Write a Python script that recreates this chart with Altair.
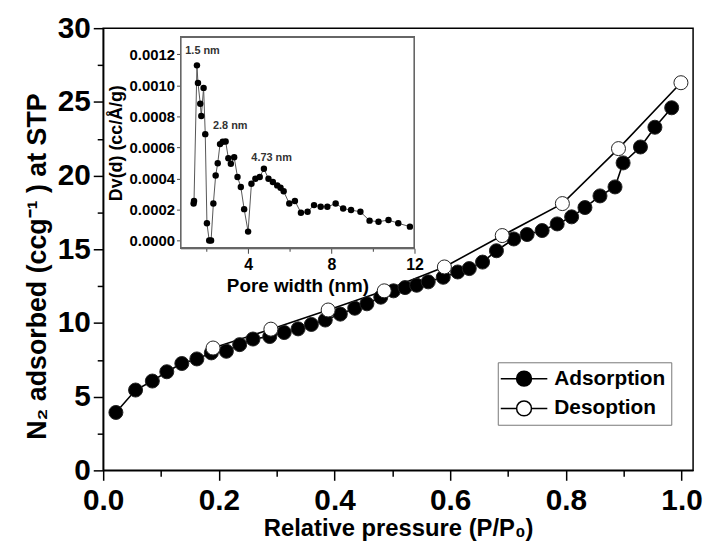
import altair as alt
import pandas as pd

# ---- main isotherm data ----
ads_p = [0.022, 0.056, 0.085, 0.110, 0.136, 0.162, 0.187, 0.213, 0.236, 0.259,
         0.288, 0.313, 0.337, 0.360, 0.384, 0.410, 0.435, 0.456, 0.480, 0.502,
         0.522, 0.542, 0.562, 0.588, 0.613, 0.633, 0.656, 0.680, 0.710, 0.733,
         0.759, 0.785, 0.810, 0.833, 0.859, 0.885, 0.899, 0.929, 0.954, 0.983]
ads_v = [3.93, 5.45, 6.06, 6.69, 7.25, 7.56, 7.97, 8.08, 8.53, 8.91,
         9.08, 9.35, 9.60, 9.90, 10.20, 10.60, 11.00, 11.30, 11.75, 12.18,
         12.40, 12.56, 12.79, 13.10, 13.46, 13.69, 14.13, 14.90, 15.70, 16.00,
         16.27, 16.72, 17.20, 17.83, 18.62, 19.23, 20.86, 21.94, 23.28, 24.60]
des_p = [0.190, 0.290, 0.389, 0.486, 0.590, 0.690, 0.794, 0.891, 0.999]
des_v = [8.30, 9.58, 10.88, 12.18, 13.80, 15.93, 18.10, 21.83, 26.30]

# ---- inset pore size distribution ----
pore_w = [1.38, 1.40, 1.54, 1.59, 1.70, 1.75, 1.86, 1.94, 2.02, 2.13, 2.22, 2.33,
          2.44, 2.54, 2.65, 2.78, 2.92, 3.05, 3.17, 3.33, 3.49, 3.65, 3.81, 4.00,
          4.16, 4.35, 4.56, 4.76, 4.98, 5.19, 5.40, 5.56, 5.71, 5.98, 6.25, 6.54,
          6.86, 7.17, 7.49, 7.81, 8.21, 8.57, 8.95, 9.40, 9.84, 10.27, 10.75,
          11.22, 11.78]
pore_dv = [0.000238, 0.000255, 0.001128, 0.001015, 0.000881, 0.000802, 0.000983,
           0.000685, 0.000111, 0.0, 0.0, 0.000238, 0.000419, 0.000498, 0.000621,
           0.000636, 0.000638, 0.000530, 0.000494, 0.000536, 0.000409, 0.000345,
           0.000202, 0.0000575, 0.000366, 0.000398, 0.000409, 0.000462, 0.000398,
           0.000377, 0.000355, 0.000340, 0.000317, 0.000238, 0.000255, 0.000179,
           0.000185, 0.000228, 0.000217, 0.000217, 0.000238, 0.000206, 0.000196,
           0.000185, 0.000128, 0.000121, 0.000132, 0.000111, 0.0000894]
ann_text = ["1.5 nm", "2.8 nm", "4.73 nm"]
ann_w = [1.81, 3.14, 5.13]
ann_dv = [0.00122, 0.00074, 0.00053]

series_names = ["Adsorption", "Desoption"]
x_ticks = [round(i * 0.1, 1) for i in range(11)]
y_ticks = [i * 2.5 for i in range(13)]
ix_ticks = [2, 4, 6, 8, 10, 12]
iy_ticks = [round(i * 0.0002, 4) for i in range(7)]

FONT = "Liberation Sans, Arial, sans-serif"

main_df = pd.DataFrame({
    "p": ads_p + des_p,
    "v": ads_v + des_v,
    "series": [series_names[0]] * len(ads_p) + [series_names[1]] * len(des_p),
})
inset_df = pd.DataFrame({"w": pore_w, "dv": pore_dv})
ann_df = pd.DataFrame({"w": ann_w, "dv": ann_dv, "label": ann_text})

X = alt.X("p:Q",
          scale=alt.Scale(domain=[0, 1.02], nice=False, zero=False),
          axis=alt.Axis(values=x_ticks,
                        labelExpr="round(datum.value*10) % 2 === 0 ? format(datum.value, '.1f') : ''",
                        tickSize={"condition": {"test": "round(datum.value*10) % 2 === 0", "value": 10}, "value": 6},
                        labelOverlap=False, labelFlush=False, labelPadding=5,
                        title="Relative pressure (P/P\u2080)", titlePadding=2))
Y = alt.Y("v:Q",
          scale=alt.Scale(domain=[0, 30], nice=False, zero=False),
          axis=alt.Axis(values=y_ticks,
                        labelExpr="datum.value % 5 === 0 ? format(datum.value, 'd') : ''",
                        tickSize={"condition": {"test": "datum.value % 5 === 0", "value": 10}, "value": 6},
                        labelOverlap=False, labelFlush=False, labelPadding=3,
                        title="N\u2082 adsorbed (ccg\u207b\u00b9 ) at STP", titlePadding=6,
                        titleFontSize=27, titleY=240))

lines = alt.Chart(main_df).mark_line(color="black", strokeWidth=1.6).encode(
    x=X, y=Y, detail="series:N")

legend_path = "M-3.13,0L-1,0M1,0L3.13,0M1,0A1,1,0,1,1,-1,0A1,1,0,1,1,1,0Z"
points = alt.Chart(main_df).mark_point(
    shape="circle", filled=True, size=200, stroke="#222", strokeWidth=1, opacity=1
).encode(
    x=X, y=Y,
    fill=alt.Fill("series:N",
                  scale=alt.Scale(domain=series_names, range=["black", "white"]),
                  legend=alt.Legend(orient="none", legendX=398, legendY=337, title=None,
                                    symbolType=legend_path, symbolSize=225,
                                    symbolStrokeColor="black", symbolStrokeWidth=1.5,
                                    symbolOffset=10, labelOffset=20, rowPadding=8,
                                    padding=6, strokeColor="#777",
                                    labelFont=FONT, labelFontSize=21, labelFontWeight="bold",
                                    labelColor="black", labelLimit=300)),
)

main = alt.layer(lines, points)

IX = alt.X("w:Q",
           scale=alt.Scale(domain=[0.75, 12], range=[78, 314], nice=False, zero=False),
           axis=alt.Axis(orient="bottom", offset=-224, values=ix_ticks,
                         labelExpr="datum.value % 4 === 0 ? datum.value : ''",
                         tickSize={"condition": {"test": "datum.value % 4 === 0", "value": 5}, "value": 3},
                         labelOverlap=False, labelFlush=False,
                         labelFontSize=16, labelPadding=3, tickWidth=1, domainWidth=1,
                         domainColor="#444", tickColor="#444",
                         title="Pore width (nm)", titleFontSize=19, titlePadding=5))
IY = alt.Y("dv:Q",
           scale=alt.Scale(domain=[-0.00005, 0.00131], range=[222, 9], nice=False, zero=False),
           axis=alt.Axis(orient="left", offset=-78, values=iy_ticks, format=".4f",
                         labelOverlap=False, labelFlush=False,
                         labelFontSize=15, labelPadding=2, tickSize=4, tickWidth=1, domainWidth=1,
                         domainColor="#444", tickColor="#444",
                         title="Dv(d) (cc/\u00c5/g)", titleFontSize=18,
                         titlePadding=4))

frame = alt.Chart(inset_df).mark_rect(fill="transparent", stroke="#666", strokeWidth=1).encode(
    x=alt.datum(0.75), x2=alt.datum(12), y=alt.datum(-0.00005), y2=alt.datum(0.00131))
iline = alt.Chart(inset_df).mark_line(color="#555", strokeWidth=1).encode(x=IX, y=IY)
ipts = alt.Chart(inset_df).mark_circle(color="black", size=42, opacity=1).encode(x=IX, y=IY)
itext = alt.Chart(ann_df).mark_text(font=FONT, fontSize=11, fontWeight="bold", color="#333").encode(
    x=IX, y=IY, text="label:N")

inset = alt.layer(iline, ipts, frame, itext)

chart = alt.layer(main, inset).resolve_scale(x="independent", y="independent").properties(
    width=595, height=446,
    autosize=alt.AutoSizeParams(type="none"),
    padding={"left": 96, "top": 18, "right": 10, "bottom": 82},
).configure_view(stroke="black", strokeWidth=1.5).configure_axis(
    domainColor="black", domainWidth=1.5, tickColor="black", tickWidth=1.5,
    labelFont=FONT, labelFontSize=30, labelFontWeight="bold", labelColor="black",
    titleFont=FONT, titleFontSize=24, titleFontWeight="bold", titleColor="black",
    grid=False,
)

chart.save("out.html", embed_options={"renderer": "svg", "actions": False})
